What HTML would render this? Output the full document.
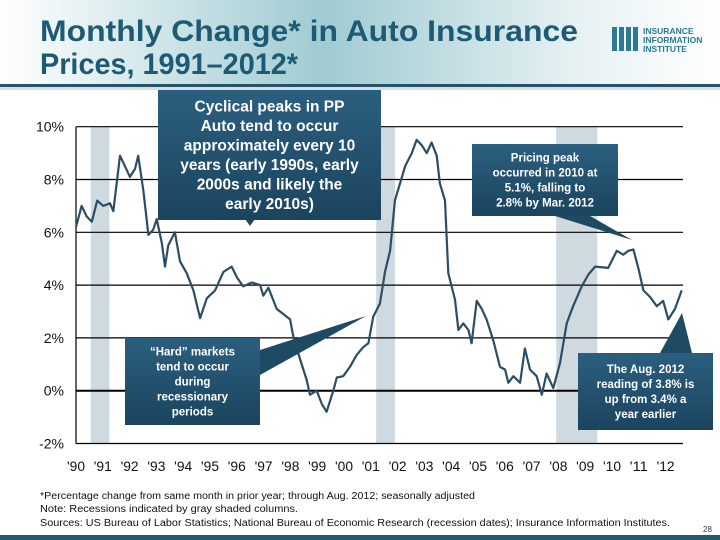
<!DOCTYPE html>
<html><head><meta charset="utf-8"><style>
html,body{margin:0;padding:0;width:720px;height:540px;overflow:hidden;background:#fff;font-family:"Liberation Sans",sans-serif}
</style></head><body>
<svg width="720" height="540" viewBox="0 0 720 540" xmlns="http://www.w3.org/2000/svg">
<defs>
<linearGradient id="hdr" x1="0" x2="1" y1="0" y2="0">
<stop offset="0" stop-color="#ffffff"/><stop offset="0.45" stop-color="#9fcbd2"/><stop offset="0.8" stop-color="#e6f1f3"/><stop offset="1" stop-color="#ffffff"/></linearGradient>
<linearGradient id="box" x1="0" x2="0" y1="0" y2="1"><stop offset="0" stop-color="#2b5f7f"/><stop offset="1" stop-color="#1b445e"/></linearGradient>
</defs>
<rect x="0" y="0" width="720" height="85" fill="url(#hdr)"/>
<rect x="0" y="84" width="720" height="3" fill="#24546b"/>
<rect x="0" y="87" width="720" height="3" fill="#d8dde0"/>
<text x="40" y="41" font-size="30" font-weight="bold" fill="#1d5a74" textLength="538" lengthAdjust="spacingAndGlyphs">Monthly Change* in Auto Insurance</text>
<text x="40" y="74" font-size="30" font-weight="bold" fill="#1d5a74" textLength="258" lengthAdjust="spacingAndGlyphs">Prices, 1991–2012*</text>
<g>
<rect x="612" y="27" width="5" height="24" fill="#2a7a95"/><rect x="619" y="27" width="5" height="24" fill="#2a7a95"/><rect x="626" y="27" width="5" height="24" fill="#2a7a95"/><rect x="633" y="27" width="5" height="24" fill="#2a7a95"/>
<text x="643" y="34" font-size="8.5" font-weight="bold" fill="#2a7a95">INSURANCE</text>
<text x="643" y="43" font-size="8.5" font-weight="bold" fill="#2a7a95">INFORMATION</text>
<text x="643" y="52" font-size="8.5" font-weight="bold" fill="#2a7a95">INSTITUTE</text>
</g>
<g id="chart"></g>
<text x="40" y="499" font-size="10" fill="#111" textLength="435" lengthAdjust="spacingAndGlyphs">*Percentage change from same month in prior year; through Aug. 2012; seasonally adjusted</text>
<text x="40" y="512" font-size="10" fill="#111" textLength="258" lengthAdjust="spacingAndGlyphs">Note: Recessions indicated by gray shaded columns.</text>
<text x="40" y="526" font-size="10" fill="#111" textLength="630" lengthAdjust="spacingAndGlyphs">Sources: US Bureau of Labor Statistics;  National Bureau of Economic Research (recession dates); Insurance Information Institutes.</text>
<text x="703" y="532" font-size="8" fill="#333">28</text>
<rect x="0" y="535" width="720" height="5" fill="#27586f"/>
</svg>
<script>
const years = [1990.00,1990.21,1990.40,1990.59,1990.79,1991.02,1991.27,1991.39,1991.64,1991.83,1992.01,1992.20,1992.32,1992.51,1992.70,1992.88,1993.01,1993.20,1993.32,1993.44,1993.69,1993.88,1994.13,1994.38,1994.63,1994.88,1995.19,1995.50,1995.81,1996.00,1996.24,1996.56,1996.87,1996.99,1997.18,1997.49,1997.74,1997.99,1998.11,1998.36,1998.61,1998.73,1998.98,1999.17,1999.35,1999.60,1999.73,1999.97,2000.22,2000.47,2000.72,2000.91,2001.09,2001.34,2001.53,2001.72,2001.90,2002.09,2002.28,2002.53,2002.71,2002.90,2003.09,2003.27,2003.46,2003.58,2003.77,2003.89,2004.14,2004.27,2004.45,2004.64,2004.76,2004.95,2005.14,2005.32,2005.57,2005.82,2006.01,2006.13,2006.32,2006.57,2006.75,2006.94,2007.19,2007.38,2007.56,2007.81,2008.06,2008.31,2008.55,2008.87,2009.12,2009.37,2009.86,2010.18,2010.42,2010.61,2010.80,2010.98,2011.17,2011.42,2011.67,2011.91,2012.10,2012.35,2012.60];
const values = [6.2,7.0,6.6,6.4,7.2,7.0,7.1,6.8,8.9,8.5,8.1,8.4,8.9,7.6,5.9,6.1,6.5,5.6,4.7,5.5,6.0,4.9,4.45,3.8,2.75,3.5,3.8,4.5,4.7,4.3,3.95,4.1,4.0,3.6,3.9,3.1,2.9,2.7,2.05,1.2,0.4,-0.15,0.0,-0.5,-0.8,0.0,0.5,0.55,0.9,1.35,1.65,1.8,2.8,3.3,4.5,5.3,7.2,7.85,8.5,9.0,9.5,9.3,9.0,9.4,8.9,7.85,7.2,4.45,3.45,2.3,2.55,2.3,1.8,3.4,3.1,2.7,1.9,0.9,0.8,0.3,0.55,0.3,1.6,0.8,0.55,-0.15,0.65,0.1,1.05,2.55,3.2,3.95,4.4,4.7,4.65,5.3,5.15,5.3,5.35,4.65,3.8,3.55,3.2,3.4,2.7,3.1,3.8];
const yTicks = [10,8,6,4,2,0,-2];
const yTickLabels = ["10%","8%","6%","4%","2%","0%","-2%"];
const xTickYears = [1990,1991,1992,1993,1994,1995,1996,1997,1998,1999,2000,2001,2002,2003,2004,2005,2006,2007,2008,2009,2010,2011,2012];
const xTickLabels = ["'90","'91","'92","'93","'94","'95","'96","'97","'98","'99","'00","'01","'02","'03","'04","'05","'06","'07","'08","'09","'10","'11","'12"];
const recessionStarts = [1990.55,2001.2,2007.92];
const recessionEnds = [1991.25,2001.9,2009.45];

const NS="http://www.w3.org/2000/svg";
const g=document.getElementById('chart');
const X0=76,X1=683;
const xs=y=>76+(y-1990)*26.8;
const ys=v=>390.7-v*26.4;
function mk(t,a){const e=document.createElementNS(NS,t);for(const k in a)e.setAttribute(k,a[k]);g.appendChild(e);return e;}
for(let i=0;i<recessionStarts.length;i++){
 const r=mk('rect',{x:xs(recessionStarts[i]),y:ys(10),width:xs(recessionEnds[i])-xs(recessionStarts[i]),height:ys(-2)-ys(10),fill:'#cfd9e0'});
 
 
}
yTicks.forEach((v,i)=>{
 const l=mk('line',{x1:X0,x2:X1,y1:ys(v),y2:ys(v),stroke:'#000','stroke-width':v===0?2:1.2});
 
 
 const t=mk('text',{x:64,y:ys(v)+5,'font-size':14,'text-anchor':'end',fill:'#111'});
 t.textContent=yTickLabels[i];
 
 
});
const ax=mk('line',{x1:X0,x2:X0,y1:ys(10),y2:ys(-2),stroke:'#000','stroke-width':1.2});


xTickYears.forEach((y,i)=>{
 const t=mk('text',{x:xs(y),y:471,'font-size':13.5,'text-anchor':'middle',fill:'#111',textLength:18,lengthAdjust:'spacingAndGlyphs'});
 t.textContent=xTickLabels[i];
 
 
});
const p=mk('path',{d:years.map((y,i)=>(i?'L':'M')+xs(y).toFixed(1)+','+ys(values[i]).toFixed(1)).join(''),fill:'none',stroke:'#2b4e66','stroke-width':2.2,'stroke-linejoin':'round'});



function callout(name,rect,tri,lines,fs,lh){
 const pt=mk('polygon',{points:tri,fill:'#1f4a64'});
 
 
 const r=mk('rect',{x:rect[0],y:rect[1],width:rect[2],height:rect[3],fill:'url(#box)'});
 
 
 const cx=rect[0]+rect[2]/2;
 const top=rect[1]+(rect[3]-lines.length*lh)/2+lh*0.78;
 lines.forEach((s,i)=>{
  const t=mk('text',{x:cx,y:top+i*lh,'font-size':fs,'font-weight':'bold','text-anchor':'middle',fill:'#fff'});
  t.textContent=s;
  
  
 });
}
callout('cyclical-peaks-callout',[158,90,223,130],'245,219 255,219 250,226',["Cyclical peaks in PP","Auto tend to occur","approximately every 10","years (early 1990s, early","2000s and likely the","early 2010s)"],15.5,19.5);
callout('pricing-peak-callout',[472,144,146,72],'555,216 590,216 632,240',["Pricing peak","occurred in 2010 at","5.1%, falling to","2.8% by Mar. 2012"],11.5,15);
callout('hard-markets-callout',[125,338,135,87],'260,350 260,375 366,316',["\u201CHard\u201D markets","tend to occur","during","recessionary","periods"],11.5,15);
callout('aug-2012-callout',[578,353,135,77],'660,353 692,353 682,313',["The Aug. 2012","reading of 3.8% is","up from 3.4% a","year earlier"],11.5,15);
</script>
</body></html>
